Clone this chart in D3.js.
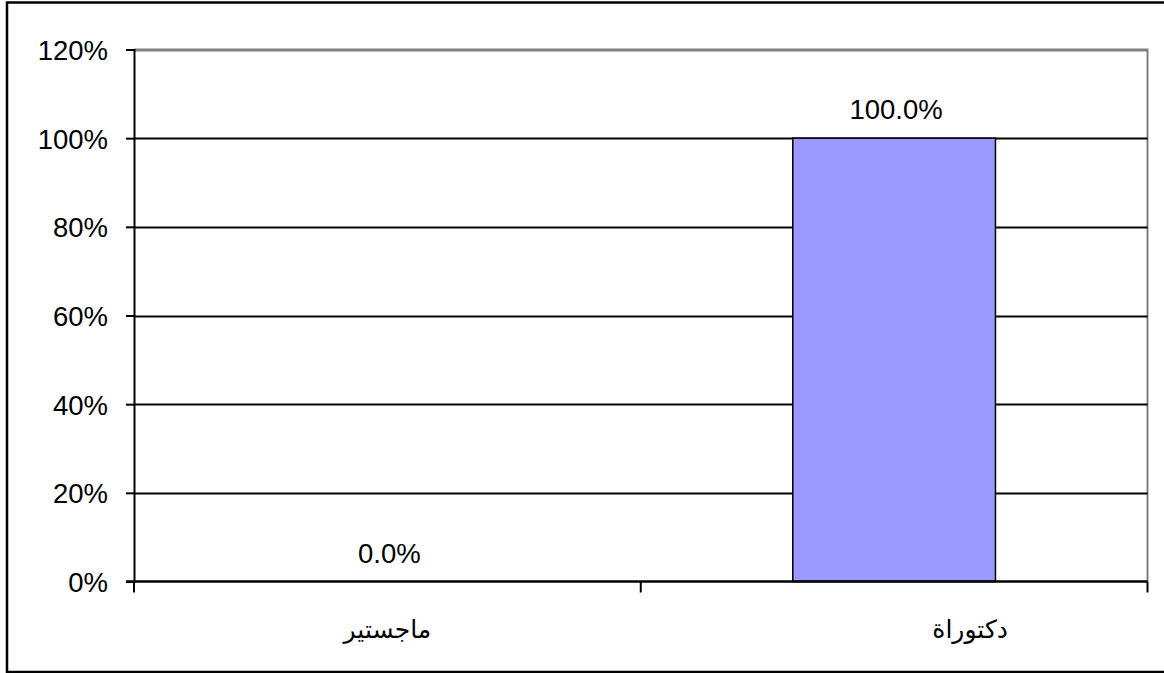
<!DOCTYPE html>
<html><head><meta charset="utf-8">
<script src="https://cdn.jsdelivr.net/npm/d3@7"></script>
<style>body{margin:0;background:#fff}svg{display:block}text{font-family:"Liberation Sans",Arial,"DejaVu Sans",sans-serif;fill:#000}</style>
</head><body><svg id="c" width="1164" height="673"></svg>
<script>
const categories = ["ماجستير", "دكتوراة"];
const values = [0.0, 1.0];
const yTicks = [0, 0.2, 0.4, 0.6, 0.8, 1.0, 1.2];
const dataLabels = ["0.0%", "100.0%"];

const svg = d3.select("#c");
const m = {left: 134, top: 49.5, right: 1147.5, bottom: 581.5};

svg.append("rect").attr("x", 7).attr("y", 2.5).attr("width", 1175).attr("height", 669.5)
  .attr("fill", "none").attr("stroke", "#000").attr("stroke-width", 2.5);

const x = d3.scaleBand().domain(categories).range([m.left, m.right]).paddingInner(0).paddingOuter(0);
const y = d3.scaleLinear().domain([0, 1.2]).range([m.bottom, m.top]);

// plot border (gray)
svg.append("path").attr("d", `M${m.left},${m.top}H${m.right}V${m.bottom}`)
  .attr("fill", "none").attr("stroke", "#808080").attr("stroke-width", 2);

// gridlines
svg.append("g").selectAll("line").data(yTicks.filter(t => t > 0)).join("line")
  .attr("x1", m.left).attr("x2", m.right).attr("y1", d => Math.round(y(d)) + 0.5).attr("y2", d => Math.round(y(d)) + 0.5)
  .attr("stroke", d => d === 1.2 ? "#808080" : "#000").attr("stroke-width", 2);

// bars
const bw = x.bandwidth() * 0.4;
svg.append("g").selectAll("rect").data(values).join("rect")
  .attr("x", (d, i) => x(categories[i]) + (x.bandwidth() - bw) / 2)
  .attr("y", d => y(d)).attr("width", bw).attr("height", d => y(0) - y(d))
  .attr("fill", "#9999FF").attr("stroke", "#000").attr("stroke-width", 1.5)
  .style("display", d => d > 0 ? null : "none");

// y axis
const yAxis = d3.axisLeft(y).tickValues(yTicks).tickFormat(d3.format(".0%")).tickSize(8).tickPadding(18);
const gy = svg.append("g").attr("transform", `translate(${m.left},0)`).call(yAxis);
gy.select(".domain").attr("stroke", "#000").attr("stroke-width", 2);
gy.selectAll(".tick line").attr("stroke", "#000").attr("stroke-width", 2);
gy.selectAll(".tick text").attr("font-size", 27.5).attr("fill", "#000").attr("dy", "0.36em")
  .style("font-family", '"Liberation Sans",Arial,sans-serif');

// x axis
const gx = svg.append("g").attr("transform", `translate(0,${m.bottom})`);
gx.append("line").attr("x1", m.left - 8).attr("x2", m.right).attr("stroke", "#000").attr("stroke-width", 2.5);
const tickXs = [m.left, ...categories.map(c => x(c) + x.bandwidth())];
gx.selectAll(".tk").data(tickXs).join("line").attr("class", "tk")
  .attr("x1", d => d).attr("x2", d => d).attr("y1", 0).attr("y2", 11).attr("stroke", "#000").attr("stroke-width", 2);
const labelShift = [0, 76];
gx.selectAll(".cl").data(categories).join("text").attr("class", "cl")
  .attr("x", (d, i) => x(d) + x.bandwidth() / 2 + labelShift[i]).attr("y", 56)
  .attr("text-anchor", "middle").attr("font-size", 25).text(d => d);

// data labels
svg.append("g").selectAll("text").data(values).join("text")
  .attr("x", (d, i) => x(categories[i]) + x.bandwidth() / 2 + 2)
  .attr("y", d => y(d) - 19)
  .attr("text-anchor", "middle").attr("font-size", 27.5).text((d, i) => dataLabels[i]);
</script></body></html>
